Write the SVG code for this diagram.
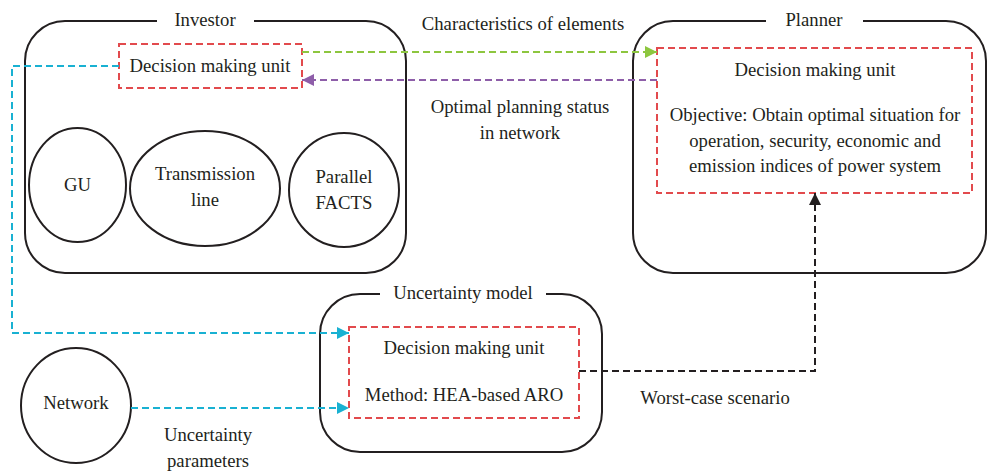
<svg xmlns="http://www.w3.org/2000/svg" width="987" height="472" viewBox="0 0 987 472">
<defs>
<style>
text{font-family:'Liberation Serif','Times New Roman',serif;font-size:18.7px;fill:#231f20;text-anchor:middle}
.box{fill:none;stroke:#231f20;stroke-width:2}
.dmu{fill:none;stroke:#e24a4d;stroke-width:2;stroke-dasharray:7 4}
.el{fill:none;stroke:#231f20;stroke-width:2}
.gap{stroke:#fff;stroke-width:5}
.c{fill:none;stroke-width:2;stroke-dasharray:7 4}
</style>
<marker id="aG" viewBox="0 0 10 10" refX="10" refY="5" markerWidth="12" markerHeight="12" markerUnits="userSpaceOnUse" orient="auto"><path d="M0,0L10,5L0,10z" fill="#8dc63f"/></marker>
<marker id="aP" viewBox="0 0 10 10" refX="10" refY="5" markerWidth="12" markerHeight="12" markerUnits="userSpaceOnUse" orient="auto"><path d="M0,0L10,5L0,10z" fill="#8e5ea9"/></marker>
<marker id="aC" viewBox="0 0 10 10" refX="10" refY="5" markerWidth="12" markerHeight="12" markerUnits="userSpaceOnUse" orient="auto"><path d="M0,0L10,5L0,10z" fill="#19b1d2"/></marker>
<marker id="aK" viewBox="0 0 10 10" refX="10" refY="5" markerWidth="12" markerHeight="12" markerUnits="userSpaceOnUse" orient="auto"><path d="M0,0L10,5L0,10z" fill="#231f20"/></marker>
</defs>
<rect width="987" height="472" fill="#fff"/>
<g id="investor">
<rect class="box" x="25" y="21" width="381" height="252" rx="40"/>
<line class="gap" x1="157" y1="21" x2="254" y2="21"/>
<text x="205" y="26">Investor</text>
<g id="investor-dmu">
<rect class="dmu" x="119" y="44" width="183" height="44"/>
<text x="210" y="72">Decision making unit</text>
</g>
<g id="gu">
<ellipse class="el" cx="77.5" cy="185" rx="48.5" ry="57"/>
<text x="77.5" y="191">GU</text>
</g>
<g id="transmission-line">
<ellipse class="el" cx="205" cy="188.5" rx="75" ry="57.5"/>
<text x="205" y="180">Transmission</text>
<text x="205" y="206">line</text>
</g>
<g id="parallel-facts">
<ellipse class="el" cx="344" cy="190" rx="55" ry="57"/>
<text x="344" y="183">Parallel</text>
<text x="344" y="209">FACTS</text>
</g>
</g>

<g id="planner">
<path class="box" d="M673,21H946A40,40 0 0 1 986,61V233A40,40 0 0 1 946,273H673A40,40 0 0 1 633,233V61A40,40 0 0 1 673,21Z"/>
<line class="gap" x1="766" y1="21" x2="863" y2="21"/>
<text x="814" y="26">Planner</text>
<g id="planner-dmu">
<rect class="dmu" x="657" y="48" width="315" height="145"/>
<text x="815" y="76">Decision making unit</text>
<text x="815" y="121">Objective: Obtain optimal situation for</text>
<text x="815" y="147">operation, security, economic and</text>
<text x="815" y="172">emission indices of power system</text>
</g>
</g>

<g id="uncertainty-model">
<rect class="box" x="320" y="294" width="282" height="158" rx="40"/>
<line class="gap" x1="380" y1="294" x2="546" y2="294"/>
<text x="463" y="299">Uncertainty model</text>
<g id="uncertainty-dmu">
<rect class="dmu" x="349" y="327" width="230" height="91"/>
<text x="464" y="354">Decision making unit</text>
<text x="464" y="401">Method: HEA-based ARO</text>
</g>
</g>

<g id="network">
<ellipse class="el" cx="76" cy="405.5" rx="55" ry="57.5"/>
<text x="76" y="409">Network</text>
</g>

<g id="connectors">
<path class="c" stroke="#8dc63f" d="M302,52H657" marker-end="url(#aG)"/>
<path class="c" stroke="#8e5ea9" d="M657,80H302" marker-end="url(#aP)"/>
<path class="c" stroke="#19b1d2" d="M119,66H12V333H349" marker-end="url(#aC)"/>
<path class="c" stroke="#19b1d2" d="M131,408H349" marker-end="url(#aC)"/>
<path class="c" stroke="#231f20" d="M579,371H815V193" marker-end="url(#aK)"/>
</g>

<g id="labels">
<text x="523" y="30">Characteristics of elements</text>
<text x="520" y="113">Optimal planning status</text>
<text x="520" y="139">in network</text>
<text x="208" y="441">Uncertainty</text>
<text x="208" y="467">parameters</text>
<text x="715" y="404">Worst-case scenario</text>
</g>
</svg>
